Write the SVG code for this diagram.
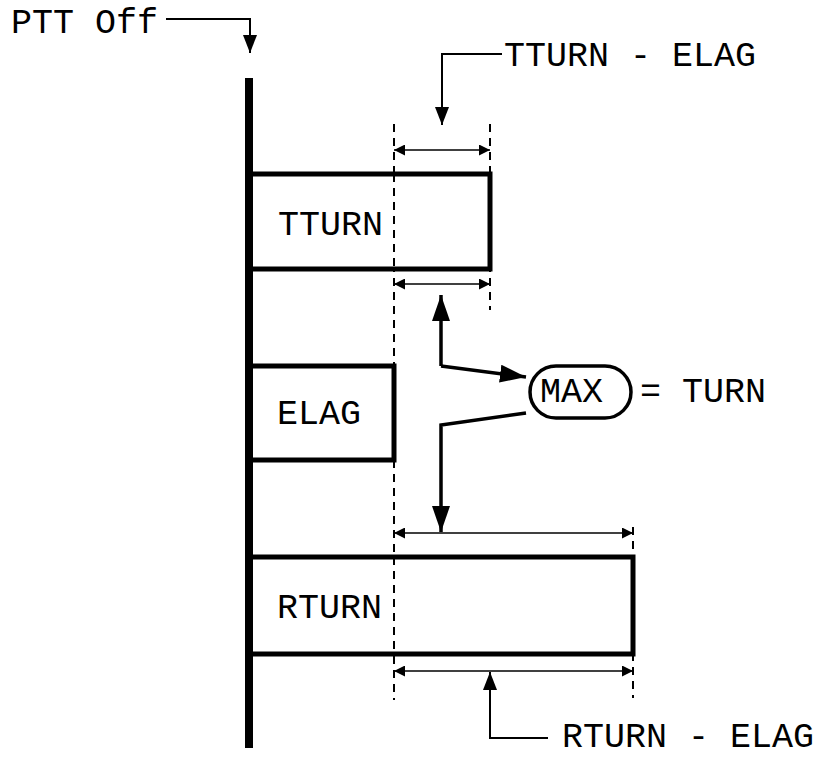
<svg xmlns="http://www.w3.org/2000/svg" width="831" height="758" viewBox="0 0 831 758">
<defs>
<style>
text{font-family:"Liberation Mono","Courier New",monospace;font-size:35px;fill:#000}
.box{fill:#fff;stroke:#000;stroke-width:5}
.dash{stroke:#000;stroke-width:2;stroke-dasharray:8 6;fill:none}
.dim{stroke:#000;stroke-width:1.5;fill:none;marker-start:url(#ds);marker-end:url(#de)}
.lead{stroke:#000;stroke-width:2;fill:none;marker-end:url(#la)}
.big{stroke:#000;stroke-width:3.5;fill:none;marker-end:url(#ba)}
</style>
<marker id="de" viewBox="0 0 10 10" refX="10" refY="5" markerUnits="userSpaceOnUse" markerWidth="11" markerHeight="11" orient="auto"><path d="M0,0L10,5L0,10z"/></marker>
<marker id="ds" viewBox="0 0 10 10" refX="0" refY="5" markerUnits="userSpaceOnUse" markerWidth="11" markerHeight="11" orient="auto"><path d="M10,0L0,5L10,10z"/></marker>
<marker id="la" viewBox="0 0 18 14" refX="18" refY="7" markerUnits="userSpaceOnUse" markerWidth="18" markerHeight="14" orient="auto"><path d="M0,0L18,7L0,14z"/></marker>
<marker id="ba" viewBox="0 0 26 18" refX="26" refY="9" markerUnits="userSpaceOnUse" markerWidth="26" markerHeight="18" orient="auto"><path d="M0,0L26,9L0,18z"/></marker>
</defs>
<rect width="831" height="758" fill="#fff"/>
<g id="guides">
<line class="dash" x1="394" y1="124" x2="394" y2="700"/>
<line class="dash" x1="490" y1="124" x2="490" y2="310"/>
<line class="dash" x1="633" y1="527" x2="633" y2="698"/>
</g>
<g id="tturn"><rect class="box" x="249" y="174" width="241" height="95"/><text x="278" y="235">TTURN</text></g>
<g id="elag"><rect class="box" x="249" y="366" width="145" height="94"/><text x="277" y="424">ELAG</text></g>
<g id="rturn"><rect class="box" x="249" y="557" width="384" height="97"/><text x="277" y="618">RTURN</text></g>
<line class="dash" x1="394" y1="174" x2="394" y2="269"/>
<line class="dash" x1="394" y1="557" x2="394" y2="654"/>
<g id="bar"><rect x="245" y="78" width="8" height="670" fill="#000"/></g>
<g id="ptt"><text x="11" y="33">PTT Off</text></g>
<g id="max"><rect x="530" y="366" width="101" height="52" rx="26" fill="#fff" stroke="#000" stroke-width="3.5"/><text x="540" y="402">MAX</text></g>
<g id="eqturn"><text x="640" y="402">= TURN</text></g>
<g id="lbl1"><text x="504" y="66">TTURN - ELAG</text></g>
<g id="lbl2"><text x="562" y="747">RTURN - ELAG</text></g>
<g id="connectors">
<path class="lead" d="M166,19H250V53"/>
<path class="lead" d="M502,54H442V125"/>
<path class="lead" d="M548,738H490V672"/>
<line class="dim" x1="394" y1="150" x2="490" y2="150"/>
<line class="dim" x1="394" y1="284" x2="490" y2="284"/>
<line class="dim" x1="394" y1="533" x2="633" y2="533"/>
<line class="dim" x1="394" y1="671" x2="633" y2="671"/>
<path class="big" d="M441,366V295"/>
<path class="big" d="M441,366L526,377"/>
<path class="big" d="M526,413L441,425V532"/>
</g>
</svg>
